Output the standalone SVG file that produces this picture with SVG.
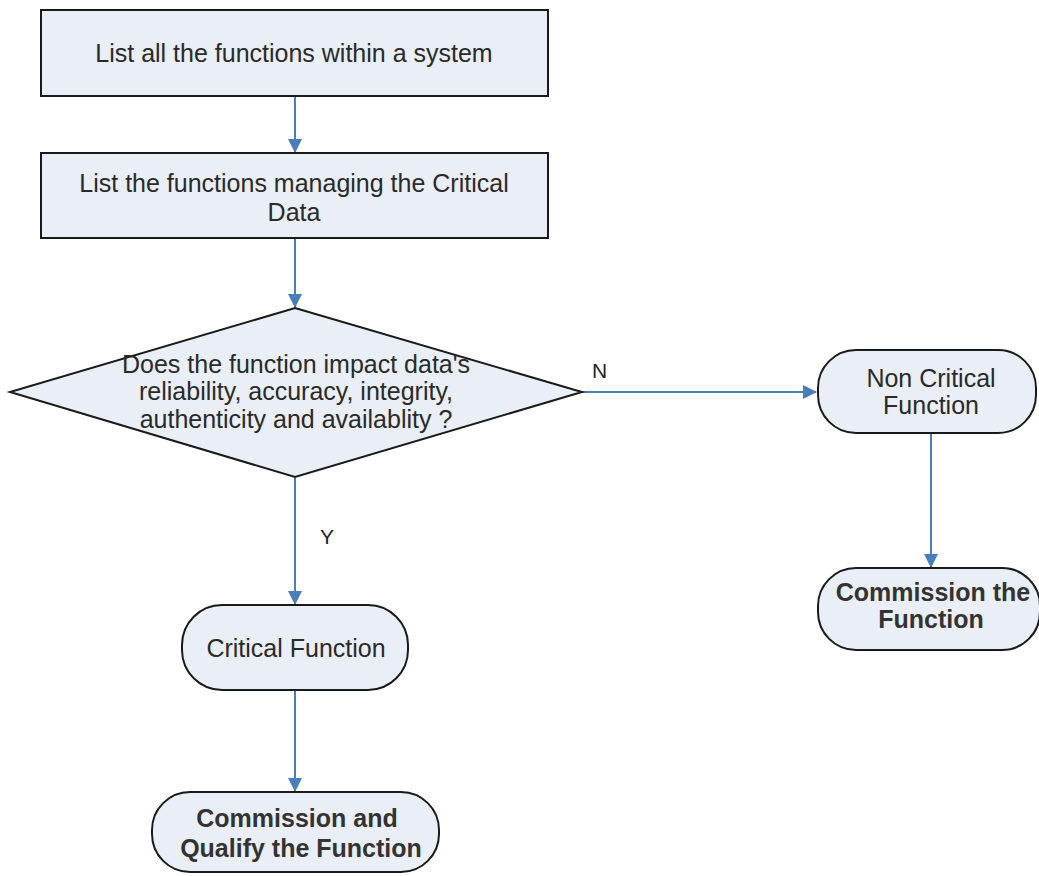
<svg xmlns="http://www.w3.org/2000/svg" width="1039" height="876" viewBox="0 0 1039 876">
<defs>
<marker id="arr" markerWidth="14" markerHeight="14" refX="13" refY="7" orient="auto" markerUnits="userSpaceOnUse" viewBox="0 0 14 14">
<path d="M0,0 L14,7 L0,14 z" fill="#4a7ebb"/>
</marker>
<style>
.box{fill:#e9eef7;stroke:#1a1a1a;stroke-width:2}
.t{font-family:"Liberation Sans",Arial,sans-serif;font-size:25px;fill:#2a2a2a;text-anchor:middle}
.b{font-family:"Liberation Sans",Arial,sans-serif;font-size:25px;font-weight:bold;fill:#333;text-anchor:middle}
.lbl{font-family:"Liberation Sans",Arial,sans-serif;font-size:21px;fill:#222}
.c{stroke:#4a7ebb;stroke-width:2;fill:none;marker-end:url(#arr)}
</style>
</defs>
<rect width="1039" height="876" fill="#ffffff"/>
<g id="connectors">
<line class="c" x1="295" y1="96" x2="295" y2="152"/>
<line class="c" x1="295" y1="238" x2="295" y2="307"/>
<line class="c" x1="582" y1="392" x2="816" y2="392"/>
<line class="c" x1="931" y1="433" x2="931" y2="567"/>
<line class="c" x1="295" y1="477" x2="295" y2="604"/>
<line class="c" x1="295" y1="690" x2="295" y2="791"/>
<text class="lbl" x="592" y="378">N</text>
<text class="lbl" x="320" y="544">Y</text>
</g>
<g id="n1">
<rect class="box" x="41" y="10" width="507" height="86"/>
<text class="t" x="294" y="62">List all the functions within a system</text>
</g>
<g id="n2">
<rect class="box" x="41" y="153" width="507" height="85"/>
<text class="t" x="294" y="192">List the functions managing the Critical</text>
<text class="t" x="294" y="221">Data</text>
</g>
<g id="n3">
<polygon class="box" points="295,308 582,392 295,477 10,392"/>
<text class="t" x="296" y="373">Does the function impact data's</text>
<text class="t" x="296" y="400">reliability, accuracy, integrity,</text>
<text class="t" x="296" y="428">authenticity and availablity ?</text>
</g>
<g id="n4">
<rect class="box" x="818" y="350" width="218" height="83" rx="38" ry="38"/>
<text class="t" x="931" y="387">Non Critical</text>
<text class="t" x="931" y="414">Function</text>
</g>
<g id="n5">
<rect class="box" x="818" y="568" width="222" height="82" rx="38" ry="38"/>
<text class="b" x="933" y="601">Commission the</text>
<text class="b" x="931" y="628">Function</text>
</g>
<g id="n6">
<rect class="box" x="182" y="605" width="226" height="85" rx="40" ry="40"/>
<text class="t" x="296" y="657">Critical Function</text>
</g>
<g id="n7">
<rect class="box" x="152" y="792" width="287" height="80" rx="38" ry="38"/>
<text class="b" x="297" y="827">Commission and</text>
<text class="b" x="301" y="857">Qualify the Function</text>
</g>
</svg>
